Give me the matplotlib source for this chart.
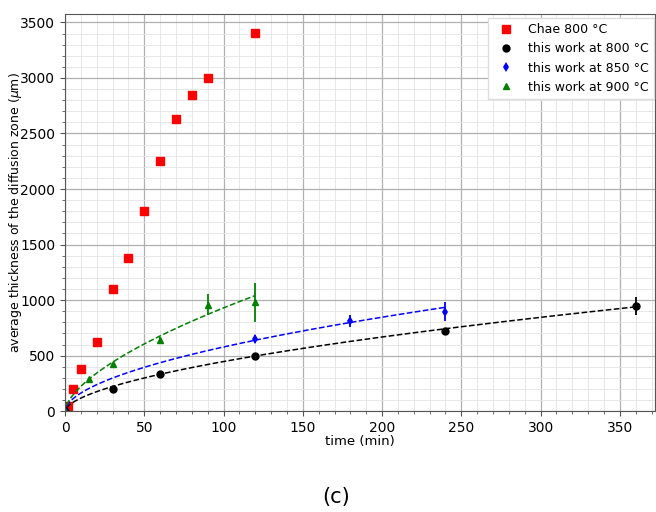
"""Diffusion zone thickness vs. annealing time, compared with Chae at 800 C."""

import matplotlib.pyplot as plt
import numpy as np
from matplotlib.ticker import MultipleLocator

# Chae 800 C
chae_t = [2, 5, 10, 20, 30, 40, 50, 60, 70, 80, 90, 120]
chae_d = [50, 200, 375, 620, 1100, 1375, 1805, 2250, 2630, 2850, 3000, 3405]

# this work, 800 C
t800 = [0, 30, 60, 120, 240, 360]
d800 = [0, 200, 335, 500, 722, 950]
e800 = [0, 10, 15, 15, 20, 82]

# this work, 850 C
t850 = [0, 120, 180, 240]
d850 = [0, 650, 812, 897]
e850 = [0, 40, 50, 87]

# this work, 900 C
t900 = [0, 15, 30, 60, 90, 120]
d900 = [0, 290, 420, 640, 958, 980]
e900 = [0, 10, 15, 30, 95, 175]

# power-law fits d = a * t^n
fit800 = (30.9, 0.58, 360)
fit850 = (45.9, 0.55, 240)
fit900 = (53.5, 0.62, 120)


def main() -> None:
    fig = plt.figure(figsize=(6.56, 5.12), dpi=100)
    ax = fig.add_axes([0.0991, 0.197, 0.899, 0.775])

    ax.plot(chae_t, chae_d, "s", color="red", markersize=5.5, label="Chae 800 °C")
    series = [
        (t800, d800, e800, "o", "black", "this work at 800 °C"),
        (t850, d850, e850, "d", "blue", "this work at 850 °C"),
        (t900, d900, e900, "^", "green", "this work at 900 °C"),
    ]
    for t, d, e, marker, color, label in series:
        ax.errorbar(t, d, yerr=e, fmt="none", ecolor=color, elinewidth=1.3)
        ax.plot(t, d, marker, color=color, markersize=5, markeredgewidth=0 if marker == "d" else 1,
                label=label)

    for (a, n, tmax), color in zip([fit800, fit850, fit900], ["black", "blue", "green"]):
        tt = np.linspace(1, tmax, 200)
        ax.plot(tt, a * tt ** n, "--", color=color, linewidth=1.1)

    ax.set_xlim(0, 372)
    ax.set_ylim(0, 3573)
    ax.xaxis.set_major_locator(MultipleLocator(50))
    ax.xaxis.set_minor_locator(MultipleLocator(10))
    ax.yaxis.set_major_locator(MultipleLocator(500))
    ax.yaxis.set_minor_locator(MultipleLocator(100))
    ax.grid(which="major", color="#b0b0b0", linewidth=0.9)
    ax.grid(which="minor", color="#e4e4e4", linewidth=0.6)
    ax.set_axisbelow(True)
    for spine in ax.spines.values():
        spine.set_color("#555555")
    ax.tick_params(which="both", color="#555555", labelsize=10)

    ax.set_xlabel("time (min)", fontsize=9.5, labelpad=0)
    ax.set_ylabel(r"average thickness of the diffusion zone ($\mu$m)", fontsize=9)
    ax.yaxis.set_label_coords(-0.07, 0.5)
    ax.legend(loc="upper right", bbox_to_anchor=(1.005, 1.0), borderaxespad=0.3,
              numpoints=1, fontsize=9, framealpha=1, edgecolor="#dddddd", fancybox=False)

    fig.text(0.513, 0.029, "(c)", ha="center", va="center", fontsize=15)

    fig.savefig("out.png", dpi=100)
    plt.close(fig)


if __name__ == "__main__":
    main()
